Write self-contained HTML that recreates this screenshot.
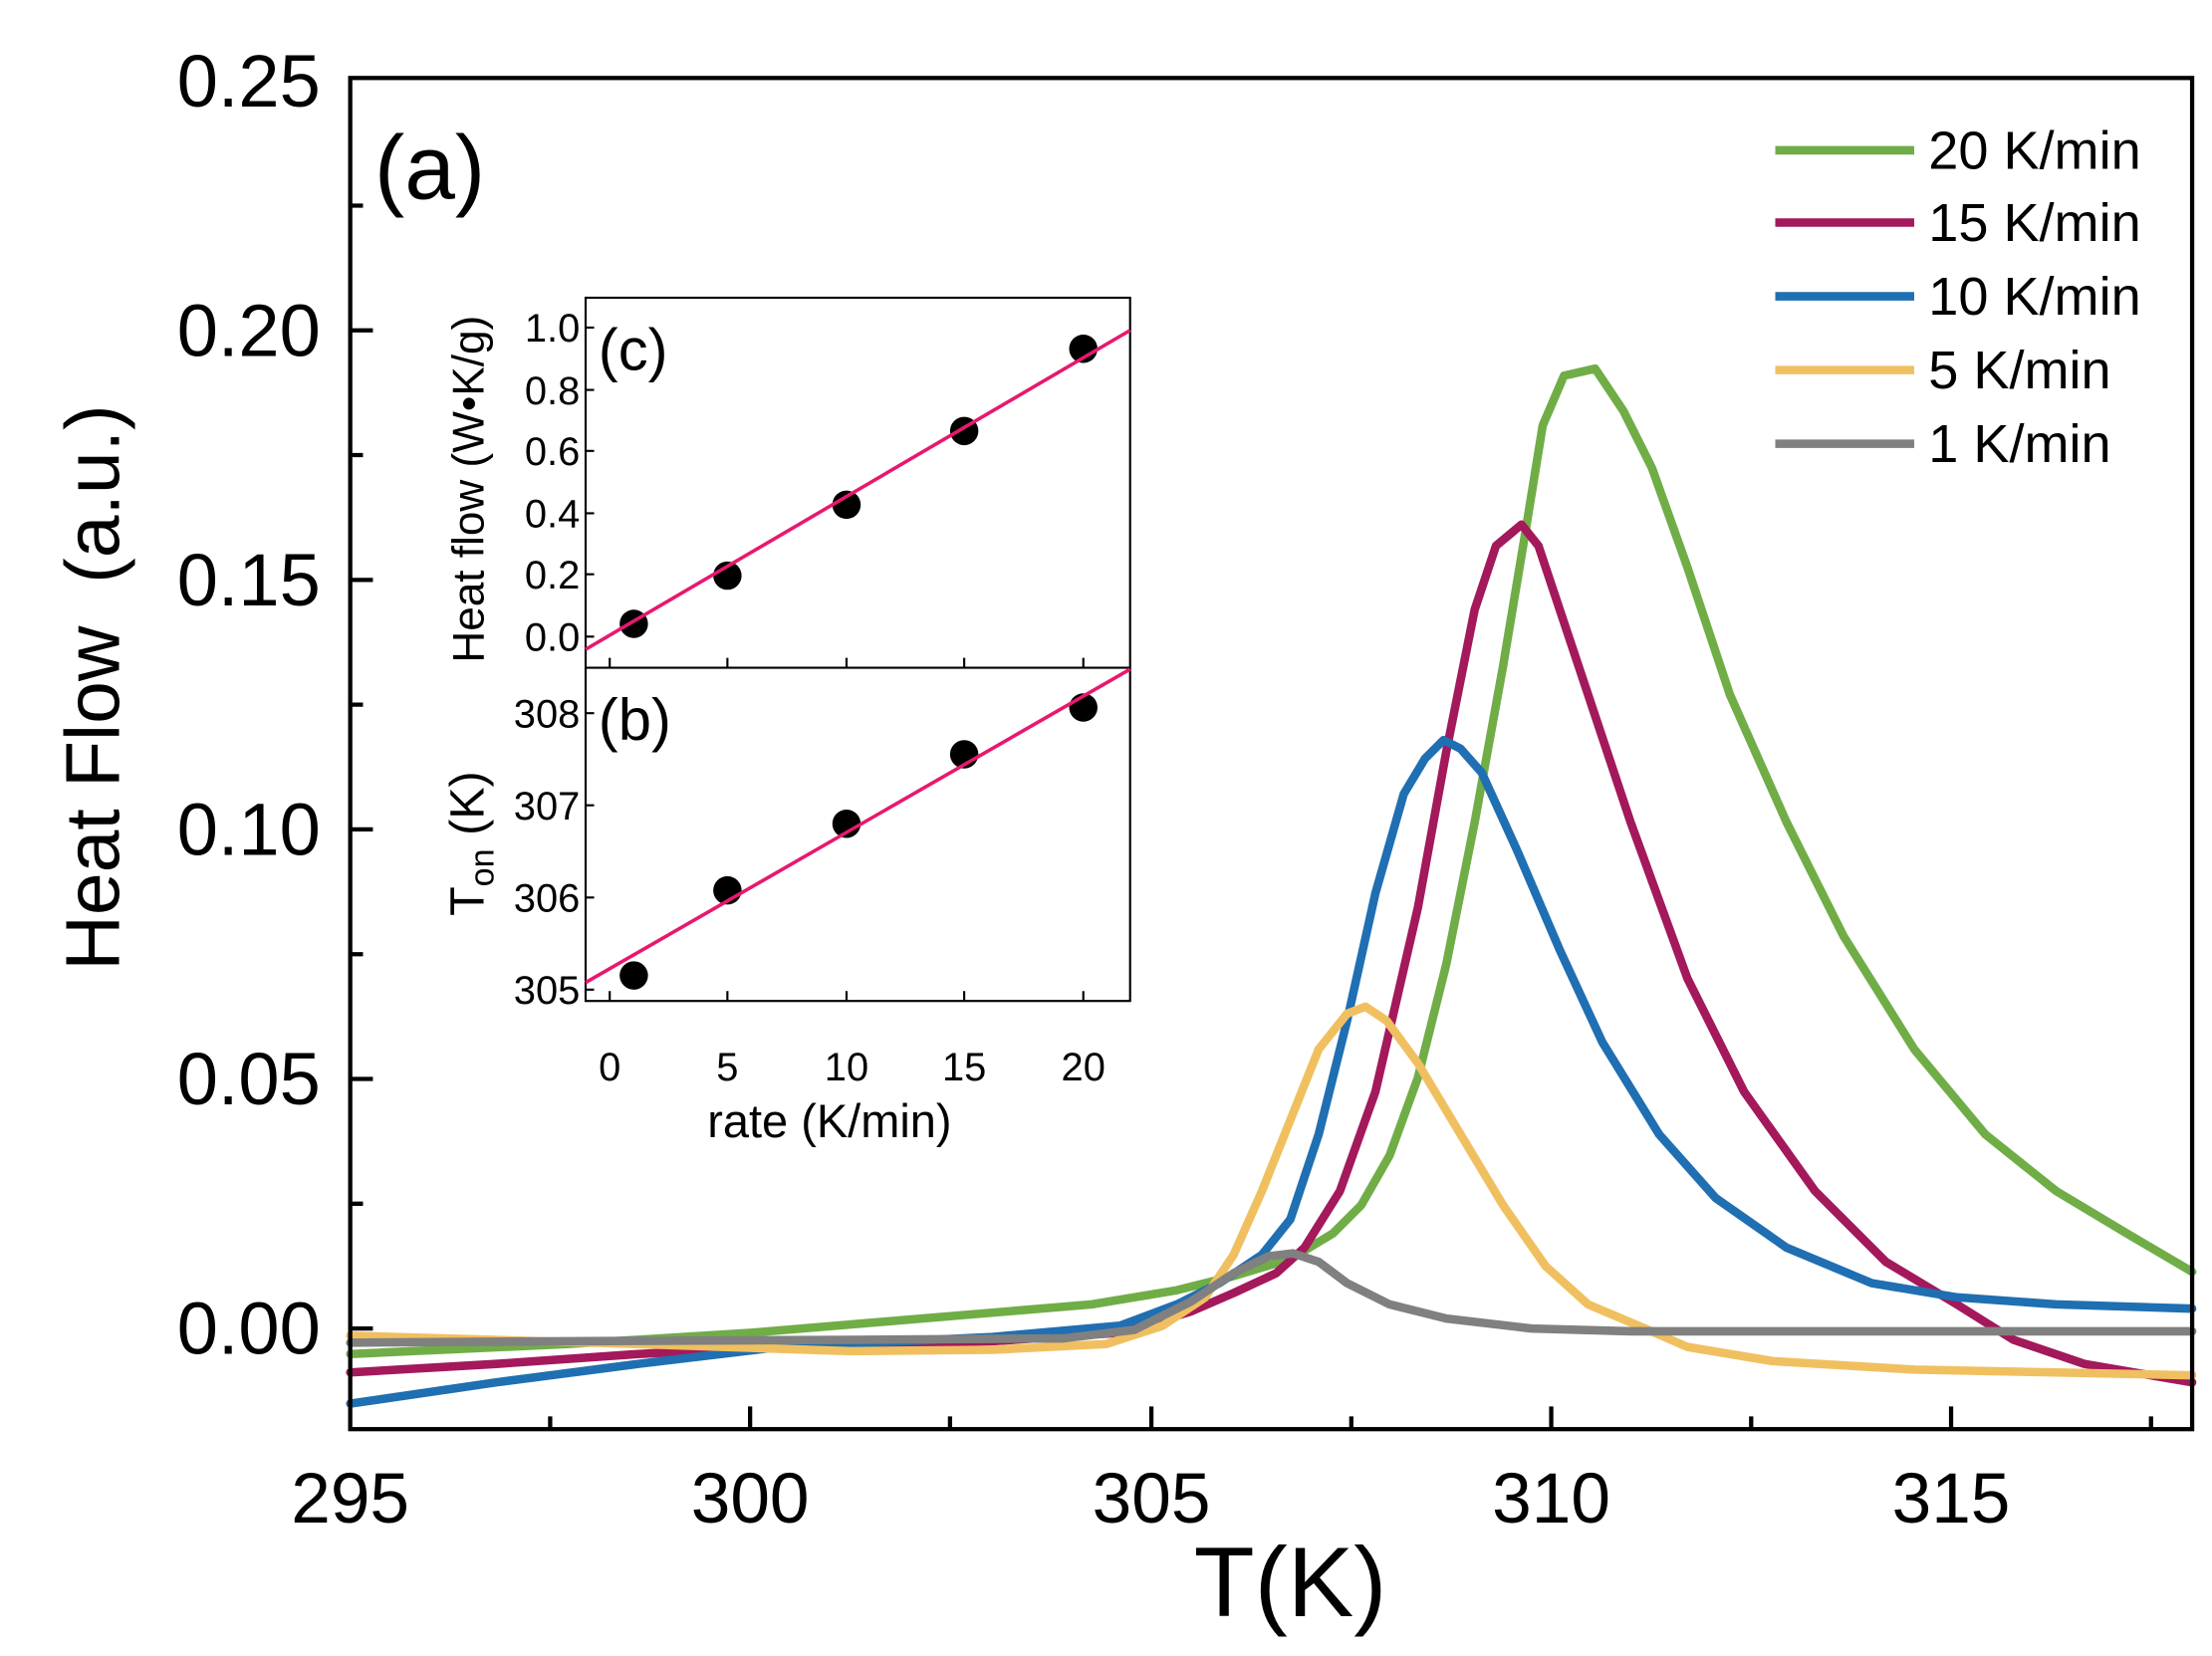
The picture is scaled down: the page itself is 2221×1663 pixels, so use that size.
<!DOCTYPE html>
<html><head><meta charset="utf-8"><style>html,body{margin:0;padding:0;background:#fff}svg{display:block}text{font-family:"Liberation Sans",Arial,sans-serif;fill:#000}</style></head>
<body>
<svg width="2221" height="1663" viewBox="0 0 1560 1168" preserveAspectRatio="none" xmlns="http://www.w3.org/2000/svg">
<rect width="1560" height="1168" fill="#fff"/>
<g fill="none" stroke-width="6" stroke-linejoin="round" stroke-linecap="round">
<polyline stroke="#70ad47" points="247,955 400,948 530,940 650,930 770,920 830,910 870,900 910,888 940,870 960,850 980,815 1000,760 1020,680 1040,580 1060,470 1075,380 1088,300 1103,265 1125,260 1145,290 1165,330 1190,400 1220,490 1260,580 1300,660 1350,740 1400,800 1450,840 1500,870 1546,897"/>
<polyline stroke="#a3195b" points="247,968 350,962 450,955 550,950 700,946 790,940 840,925 870,912 900,898 920,880 945,840 970,770 1000,640 1020,530 1040,430 1055,385 1073,370 1085,385 1100,430 1120,490 1150,580 1190,690 1230,770 1280,840 1330,890 1380,920 1420,945 1470,962 1546,975"/>
<polyline stroke="#1f6fb2" points="247,990 350,975 450,962 550,950 700,943 790,935 830,920 860,905 890,885 910,860 930,800 950,720 970,630 990,560 1005,535 1018,522 1030,528 1045,545 1070,600 1100,670 1130,735 1170,800 1210,845 1260,880 1320,905 1380,915 1450,920 1546,923"/>
<polyline stroke="#f0c060" points="247,942 450,948 600,953 700,952 780,948 820,935 850,915 870,885 890,840 910,790 930,740 950,715 963,710 978,720 1000,750 1030,800 1060,850 1090,893 1120,920 1160,937 1190,950 1250,960 1350,966 1450,968 1546,970"/>
<polyline stroke="#808080" points="247,947 400,946 600,945 750,944 800,938 840,918 870,898 895,886 912,884 930,890 950,905 980,920 1020,930 1080,937 1150,939 1300,939 1546,939"/>
</g>
<rect x="247" y="55" width="1299" height="953" fill="none" stroke="#000" stroke-width="3"/>
<g stroke="#000" stroke-width="3">
<path d="M529,1008v-16M812,1008v-16M1094,1008v-16M1376,1008v-16M388,1008v-9M670,1008v-9M953,1008v-9M1235,1008v-9M1517,1008v-9"/>
<path d="M247,937h16M247,761h16M247,585h16M247,409h16M247,233h16M247,849h9M247,673h9M247,497h9M247,321h9M247,145h9"/>
</g>
<g font-size="52" text-anchor="end">
<text x="226" y="955">0.00</text><text x="226" y="779">0.05</text><text x="226" y="603">0.10</text><text x="226" y="427">0.15</text><text x="226" y="251">0.20</text><text x="226" y="75">0.25</text>
</g>
<g font-size="50" text-anchor="middle">
<text x="247" y="1074">295</text><text x="529" y="1074">300</text><text x="812" y="1074">305</text><text x="1094" y="1074">310</text><text x="1376" y="1074">315</text>
</g>
<text x="910" y="1140" font-size="70" text-anchor="middle">T(K)</text>
<text transform="translate(84,485) rotate(-90)" font-size="54" text-anchor="middle" xml:space="preserve">Heat Flow  (a.u.)</text>
<text x="264" y="140" font-size="64">(a)</text>
<g stroke-width="6">
<line x1="1252" y1="106" x2="1350" y2="106" stroke="#70ad47"/>
<line x1="1252" y1="157" x2="1350" y2="157" stroke="#a3195b"/>
<line x1="1252" y1="209" x2="1350" y2="209" stroke="#1f6fb2"/>
<line x1="1252" y1="261" x2="1350" y2="261" stroke="#f0c060"/>
<line x1="1252" y1="313" x2="1350" y2="313" stroke="#808080"/>
</g>
<g font-size="38">
<text x="1360" y="119">20 K/min</text><text x="1360" y="170">15 K/min</text><text x="1360" y="222">10 K/min</text><text x="1360" y="274">5 K/min</text><text x="1360" y="326">1 K/min</text>
</g>
<!-- inset -->
<rect x="413" y="210" width="384" height="496" fill="#fff" stroke="#000" stroke-width="1.5"/>
<line x1="413" y1="471" x2="797" y2="471" stroke="#000" stroke-width="1.5"/>
<g stroke="#000" stroke-width="1.5">
<path d="M430,706v-7M513,706v-7M597,706v-7M680,706v-7M764,706v-7M430,471v-7M513,471v-7M597,471v-7M680,471v-7M764,471v-7"/>
<path d="M413,449h6M413,405h6M413,362h6M413,318h6M413,275h6M413,231h6M413,503h6M413,568h6M413,633h6M413,698h6"/>
</g>
<g font-size="28" text-anchor="end">
<text x="409" y="459">0.0</text><text x="409" y="415">0.2</text><text x="409" y="372">0.4</text><text x="409" y="328">0.6</text><text x="409" y="285">0.8</text><text x="409" y="241">1.0</text>
<text x="409" y="513">308</text><text x="409" y="578">307</text><text x="409" y="643">306</text><text x="409" y="708">305</text>
</g>
<g font-size="28" text-anchor="middle">
<text x="430" y="762">0</text><text x="513" y="762">5</text><text x="597" y="762">10</text><text x="680" y="762">15</text><text x="764" y="762">20</text>
</g>
<text x="585" y="802" font-size="33" text-anchor="middle">rate (K/min)</text>
<text transform="translate(341,345) rotate(-90)" font-size="31" text-anchor="middle">Heat flow (W•K/g)</text>
<text transform="translate(341,595) rotate(-90)" font-size="34" text-anchor="middle">T<tspan font-size="24" dy="7">on</tspan><tspan dy="-7"> (K)</tspan></text>
<text x="422" y="261" font-size="42">(c)</text>
<text x="422" y="522" font-size="42">(b)</text>
<g fill="#000">
<circle cx="447" cy="440" r="10"/><circle cx="513" cy="406" r="10"/><circle cx="597" cy="356" r="10"/><circle cx="680" cy="304" r="10"/><circle cx="764" cy="246" r="10"/>
<circle cx="447" cy="688" r="10"/><circle cx="513" cy="628" r="10"/><circle cx="597" cy="581" r="10"/><circle cx="680" cy="532" r="10"/><circle cx="764" cy="499" r="10"/>
</g>
<line x1="413" y1="458" x2="797" y2="233" stroke="#e8186e" stroke-width="2.5"/>
<line x1="413" y1="693" x2="797" y2="472" stroke="#e8186e" stroke-width="2.5"/>
</svg>
</body></html>
